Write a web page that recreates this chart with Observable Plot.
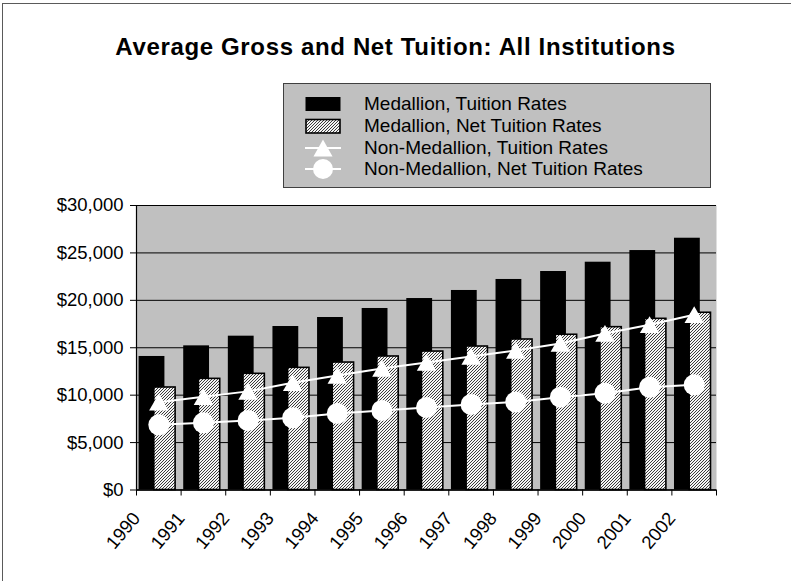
<!DOCTYPE html>
<html>
<head>
<meta charset="utf-8">
<script src="https://cdn.jsdelivr.net/npm/d3@7"></script>
<script src="https://cdn.jsdelivr.net/npm/@observablehq/plot@0.6"></script>
<style>
  html, body { margin: 0; padding: 0; background: #fff; }
  #wrap { position: relative; width: 791px; height: 581px; overflow: hidden; background: #fff; font-family: "Liberation Sans", Arial, sans-serif; }
  #border { position: absolute; left: 2px; top: 3px; width: 900px; height: 700px; border-left: 1.5px solid #5a5a5a; border-top: 1.5px solid #5a5a5a; }
  #chart { position: absolute; left: 0; top: 0; }
  #title { position: absolute; left: 0; width: 791px; top: 33px; text-align: center; font-weight: bold; font-size: 24px; letter-spacing: 0.65px; color: #000; z-index: 2; }
  #legend { position: absolute; left: 283px; top: 83px; width: 426px; height: 103px; background: #c0c0c0; border: 1px solid #404040; z-index: 2; }
  .row { position: absolute; left: 0; height: 22px; display: flex; align-items: center; }
  .row svg { margin-left: 21px; }
  .row span { position: absolute; left: 80px; font-size: 19px; white-space: nowrap; color: #000; }
</style>
</head>
<body>
<div id="wrap">
  <div id="border"></div>
  <div id="chart"></div>
  <div id="title">Average Gross and Net Tuition: All Institutions</div>
  <div id="legend"></div>
</div>
<script>
// ---- data ----
const years = ["1990","1991","1992","1993","1994","1995","1996","1997","1998","1999","2000","2001","2002"];
const medTuition    = [14080, 15200, 16220, 17240, 18190, 19140, 20190, 21040, 22200, 23040, 24020, 25250, 26550];
const medNet        = [10810, 11720, 12250, 12880, 13440, 14080, 14600, 15130, 15870, 16370, 17170, 18050, 18690];
const nonMedTuition = [9250, 9830, 10400, 11310, 12070, 12810, 13440, 14080, 14710, 15450, 16500, 17430, 18490];
const nonMedNet     = [6870, 7080, 7330, 7610, 8070, 8380, 8700, 9020, 9280, 9790, 10210, 10840, 11090];
const yTicks = [0, 5000, 10000, 15000, 20000, 25000, 30000];
const seriesNames = ["Medallion, Tuition Rates", "Medallion, Net Tuition Rates", "Non-Medallion, Tuition Rates", "Non-Medallion, Net Tuition Rates"];

const rows = years.map((y, i) => ({
  i, year: y,
  medTuition: medTuition[i], medNet: medNet[i],
  nonMedTuition: nonMedTuition[i], nonMedNet: nonMedNet[i]
}));

const hatchDef = (id) => `<pattern id="${id}" patternUnits="userSpaceOnUse" width="3" height="3">
  <rect width="3" height="3" fill="#f4f4f4"/>
  <path d="M-1,1 l2,-2 M0,3 l3,-3 M2,4 l2,-2" stroke="#262626" stroke-width="0.9"/>
</pattern>`;

const mid = d => d.i + 0.5;

const chart = Plot.plot({
  width: 791,
  height: 581,
  marginLeft: 136,
  marginRight: 75,
  marginTop: 205,
  marginBottom: 91.5,
  x: { domain: [0, years.length], axis: null },
  y: { domain: [0, 30000], axis: null },
  style: { fontFamily: "'Liberation Sans', Arial, sans-serif", fontSize: "18.5px", color: "#000", background: "transparent", overflow: "visible" },
  marks: [
    Plot.frame({ fill: "#c0c0c0", stroke: "none" }),
    Plot.gridY({ ticks: yTicks, stroke: "#000", strokeOpacity: 1, strokeWidth: 1 }),
    Plot.rect(rows, { x1: "i", x2: d => d.i + 1, y1: 0, y2: "medTuition", fill: "#000", insetLeft: 2.6, insetRight: 16.2 }),
    Plot.rect(rows, { x1: "i", x2: d => d.i + 1, y1: 0, y2: "medNet", fill: "url(#hatchMain)", stroke: "#000", strokeWidth: 1.6, insetLeft: 17.8, insetRight: 5.5 }),
    Plot.line(rows, { x: mid, y: "nonMedTuition", stroke: "#fff", strokeWidth: 2 }),
    Plot.dot(rows, { x: mid, y: "nonMedTuition", symbol: "triangle", r: 7.2, fill: "#fff", stroke: "none", dy: 2.7 }),
    Plot.line(rows, { x: mid, y: "nonMedNet", stroke: "#fff", strokeWidth: 2 }),
    Plot.dot(rows, { x: mid, y: "nonMedNet", symbol: "circle", r: 10.5, fill: "#fff", stroke: "none" }),
    Plot.ruleX([0], { stroke: "#000", strokeWidth: 1.2 }),
    Plot.ruleY([0], { stroke: "#000", strokeWidth: 1.5 }),
    Plot.axisY({ ticks: yTicks, tickFormat: d => "$" + d3.format(",")(d), tickSize: 6, tickPadding: 7, stroke: "#000", label: null }),
    Plot.axisX({ ticks: d3.range(years.length + 1), tickFormat: i => years[i] ?? "", tickSize: 6, tickPadding: 19, tickRotate: -50, stroke: "#000", label: null })
  ]
});

const defs = document.createElementNS("http://www.w3.org/2000/svg", "defs");
defs.innerHTML = hatchDef("hatchMain");
chart.insertBefore(defs, chart.firstChild);
document.getElementById("chart").appendChild(chart);

// ---- legend ----
const legend = document.getElementById("legend");
const rowTops = [9, 30.5, 52.5, 74];
const swatches = [
  `<svg width="36" height="22"><rect x="0.5" y="4" width="35" height="14" fill="#000"/></svg>`,
  `<svg width="36" height="22"><defs>${hatchDef("hatchLeg")}</defs><rect x="1" y="4.5" width="34" height="13.5" fill="url(#hatchLeg)" stroke="#000" stroke-width="1.6"/></svg>`,
  `<svg width="36" height="22"><line x1="0" x2="36" y1="11" y2="11" stroke="#fff" stroke-width="2"/><path d="M18,2.5 L27.5,19.5 L8.5,19.5 Z" fill="#fff"/></svg>`,
  `<svg width="36" height="22"><line x1="0" x2="36" y1="11" y2="11" stroke="#fff" stroke-width="2"/><circle cx="18" cy="11" r="10" fill="#fff"/></svg>`
];
seriesNames.forEach((name, k) => {
  const r = document.createElement("div");
  r.className = "row";
  r.style.top = rowTops[k] + "px";
  r.innerHTML = swatches[k] + `<span>${name}</span>`;
  legend.appendChild(r);
});
</script>
</body>
</html>
